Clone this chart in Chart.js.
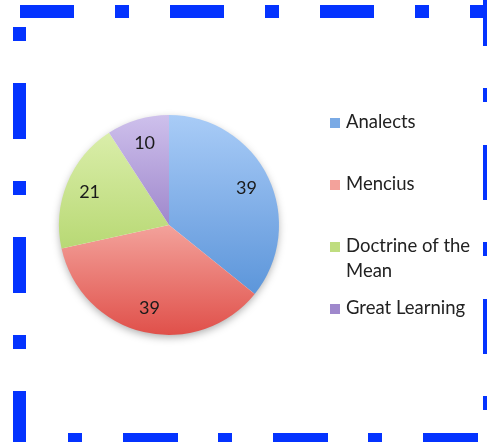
<!DOCTYPE html>
<html>
<head>
<meta charset="utf-8">
<script src="https://cdn.jsdelivr.net/npm/chart.js@4.4.0/dist/chart.umd.min.js"></script>
<style>
  html, body { margin:0; padding:0; background:#fff; }
  #wrap { width:487px; height:442px; overflow:hidden; }
  canvas { display:block; }
</style>
</head>
<body>
<div id="wrap"><canvas id="pieChart" width="487" height="442"></canvas></div>
<script>
// datos del grafico
const labels = ['Analects', 'Mencius', 'Doctrine of the Mean', 'Great Learning'];
const values = [39, 39, 21, 10];

// degradado vertical por color: claro arriba, oscuro abajo
const colorsTop = ['#A9CCF7', '#FCCAC5', '#DFF1B2', '#CEC0EC'];
const colorsMid = ['#7AAAE5', '#F3A29B', '#BFDD7F', '#9F88CC'];
const colorsBottom = ['#4A8AD4', '#E0504A', '#9CC84F', '#7A5DB2'];

const FONT = 'Lato, "Open Sans", sans-serif';
const BLUE = '#0433ff';

function sliceFill(ctx){
  const chart = ctx.chart;
  const area = chart.chartArea;
  const i = ctx.dataIndex;
  if(!area) return colorsMid[i];
  const g = chart.ctx.createLinearGradient(0, area.top, 0, area.bottom);
  g.addColorStop(0, colorsTop[i]);
  g.addColorStop(0.5, colorsMid[i]);
  g.addColorStop(1, colorsBottom[i]);
  return g;
}

// sombra suave debajo del pastel
const shadowPlugin = {
  id: 'pieShadow',
  beforeDatasetsDraw(chart){
    const arc = chart.getDatasetMeta(0).data[0];
    if(!arc) return;
    const c = chart.ctx;
    c.save();
    c.shadowColor = 'rgba(0,0,0,0.35)';
    c.shadowBlur = 8;
    c.shadowOffsetY = 3;
    c.fillStyle = '#fff';
    c.beginPath();
    c.arc(arc.x, arc.y, arc.outerRadius - 1, 0, Math.PI * 2);
    c.fill();
    c.restore();
  }
};

// numeros dentro de cada porcion
const valueLabels = {
  id: 'valueLabels',
  afterDatasetsDraw(chart){
    const c = chart.ctx;
    c.save();
    c.font = '18px ' + FONT;
    c.fillStyle = '#1a1a1a';
    c.textAlign = 'center';
    c.textBaseline = 'middle';
    chart.getDatasetMeta(0).data.forEach((arc, i) => {
      const p = arc.getProps(['x','y','startAngle','endAngle','outerRadius'], true);
      const mid = (p.startAngle + p.endAngle) / 2;
      const r = p.outerRadius * 0.78;
      c.fillText(String(values[i]), p.x + Math.cos(mid) * r, p.y + Math.sin(mid) * r);
    });
    c.restore();
  }
};

// leyenda a la derecha, con texto partido en lineas
const sideLegend = {
  id: 'sideLegend',
  afterDraw(chart){
    const c = chart.ctx;
    const x0 = 330, top = 122, gap = 62, lineH = 25, maxW = 128;
    c.save();
    c.font = '18.5px ' + FONT;
    c.textBaseline = 'middle';
    c.textAlign = 'left';
    labels.forEach((lab, i) => {
      const y = top + i * gap;
      c.fillStyle = colorsMid[i];
      c.fillRect(x0, y - 4, 10, 10);
      c.fillStyle = '#222';
      const words = lab.split(' ');
      let line = '', ly = y;
      words.forEach(w => {
        const test = line ? line + ' ' + w : w;
        if(c.measureText(test).width > maxW && line){
          c.fillText(line, x0 + 16, ly);
          line = w; ly += lineH;
        } else line = test;
      });
      c.fillText(line, x0 + 16, ly);
    });
    c.restore();
  }
};

// marco azul de rayas y puntos
const dashedFrame = {
  id: 'dashedFrame',
  afterDraw(chart){
    const c = chart.ctx;
    c.save();
    c.strokeStyle = BLUE;
    c.lineWidth = 13;
    c.lineCap = 'butt';
    const side = (x1, y1, x2, y2, dash) => {
      c.setLineDash(dash);
      c.beginPath();
      c.moveTo(x1, y1);
      c.lineTo(x2, y2);
      c.stroke();
    };
    side(20, 11.5, 520, 11.5, [54, 41, 14, 41]);
    side(19.5, 27, 19.5, 460, [14, 42, 56, 42]);
    side(489.5, -66, 489.5, 460, [14, 43, 55, 42]);
    side(68, 439.5, 520, 439.5, [14, 41, 55, 40]);
    c.restore();
  }
};

const chart = new Chart(document.getElementById('pieChart').getContext('2d'), {
  type: 'pie',
  data: {
    labels,
    datasets: [{ data: values, backgroundColor: sliceFill, borderWidth: 0 }]
  },
  options: {
    responsive: false,
    animation: false,
    layout: { padding: { left: 59, right: 208, top: 115, bottom: 107 } },
    plugins: { legend: { display: false }, tooltip: { enabled: false } }
  },
  plugins: [shadowPlugin, valueLabels, sideLegend, dashedFrame]
});
</script>
</body>
</html>
